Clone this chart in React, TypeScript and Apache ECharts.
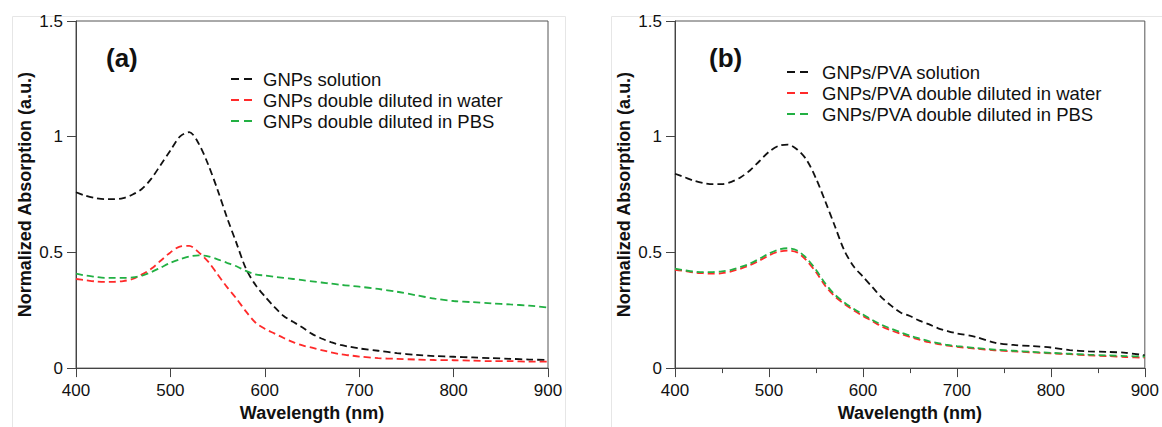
import React, { useEffect, useRef } from "react";
import * as echarts from "echarts";

const wavelengths = [
  400, 410, 420, 430, 440, 450, 460, 470, 480, 490, 500, 510, 520, 530, 540, 550, 560, 570, 580, 590,
  600, 610, 620, 630, 640, 650, 660, 670, 680, 690, 700, 720, 740, 760, 780, 800, 820, 840, 860, 880, 900,
];

const seriesNamesA = ["GNPs solution", "GNPs double diluted in water", "GNPs double diluted in PBS"];
const seriesNamesB = ["GNPs/PVA solution", "GNPs/PVA double diluted in water", "GNPs/PVA double diluted in PBS"];

const solutionA = [
  0.76, 0.745, 0.735, 0.73, 0.73, 0.735, 0.75, 0.775, 0.82, 0.88, 0.94, 1.0, 1.02, 0.97, 0.88, 0.77, 0.65, 0.54, 0.43, 0.36,
  0.31, 0.265, 0.225, 0.2, 0.175, 0.148, 0.128, 0.112, 0.1, 0.092, 0.085, 0.075, 0.065, 0.057, 0.052, 0.049, 0.046, 0.043, 0.04, 0.037, 0.035,
];
const waterA = [
  0.385, 0.38, 0.375, 0.373, 0.373, 0.376, 0.385, 0.405, 0.43, 0.465, 0.5, 0.525, 0.528, 0.5, 0.46, 0.405, 0.35, 0.3, 0.245, 0.197,
  0.17, 0.15, 0.13, 0.112, 0.098, 0.088, 0.078, 0.068, 0.06, 0.055, 0.05, 0.043, 0.04, 0.037, 0.035, 0.034, 0.032, 0.03, 0.03, 0.028, 0.028,
];
const pbsA = [
  0.408, 0.4, 0.395, 0.39, 0.39, 0.39, 0.392, 0.4, 0.415, 0.435, 0.455, 0.47, 0.482, 0.487, 0.483, 0.47, 0.455, 0.44, 0.42, 0.405,
  0.4, 0.395, 0.39, 0.385, 0.38, 0.375, 0.37, 0.365, 0.36, 0.356, 0.352, 0.342, 0.33, 0.315, 0.3, 0.29, 0.285, 0.28, 0.275, 0.27, 0.262,
];

const solutionB = [
  0.84, 0.825, 0.81, 0.8, 0.795, 0.795, 0.805, 0.825, 0.855, 0.895, 0.935, 0.96, 0.966, 0.945, 0.9, 0.82, 0.72, 0.615, 0.51, 0.44,
  0.395, 0.35, 0.305, 0.27, 0.24, 0.225, 0.205, 0.19, 0.172, 0.16, 0.15, 0.135, 0.11, 0.1, 0.095, 0.089, 0.078, 0.072, 0.07, 0.066, 0.055,
];
const waterB = [
  0.425, 0.42, 0.413, 0.41, 0.408, 0.41, 0.418, 0.43, 0.445, 0.465, 0.487, 0.503, 0.508, 0.5, 0.465, 0.415, 0.355, 0.31, 0.278, 0.25,
  0.225, 0.203, 0.18, 0.163, 0.148, 0.135, 0.123, 0.112, 0.104, 0.097, 0.092, 0.084, 0.077, 0.072, 0.068, 0.064, 0.06, 0.055, 0.052, 0.048, 0.045,
];
const pbsB = [
  0.43, 0.423, 0.417, 0.415, 0.415, 0.418, 0.425, 0.437, 0.452, 0.473, 0.495, 0.512, 0.518, 0.508, 0.475, 0.425, 0.365, 0.318, 0.284, 0.256,
  0.232, 0.208, 0.187, 0.17, 0.155, 0.14, 0.128, 0.117, 0.108, 0.1, 0.095, 0.087, 0.08, 0.075, 0.07, 0.066, 0.062, 0.058, 0.055, 0.052, 0.05,
];

const xTicks = { min: 400, max: 900, interval: 100 };
const yTicks = { min: 0, max: 1.5, interval: 0.5 };

const colors = ["#111111", "#ff2a2a", "#22b043"];
const FONT = "'Liberation Sans', Arial, sans-serif";

function pairs(values: number[]) {
  return wavelengths.map((w, i) => [w, values[i]]);
}

function legendGraphics(names: string[], lineX: number, textX: number, firstY: number, pitch: number) {
  const out: any[] = [];
  names.forEach((n, i) => {
    const y = firstY + i * pitch;
    out.push({
      type: "line",
      shape: { x1: lineX, y1: y, x2: lineX + 22, y2: y },
      style: { stroke: colors[i], lineWidth: 1.8, lineDash: [8, 5] },
      silent: true,
    });
    out.push({
      type: "text",
      x: textX,
      y: y,
      style: { text: n, font: `18.5px ${FONT}`, fill: "#111", textVerticalAlign: "middle", verticalAlign: "middle" },
      silent: true,
    });
  });
  return out;
}

export default function App() {
  const ref = useRef<HTMLDivElement>(null);
  useEffect(() => {
    if (!ref.current) return;
    const chart = echarts.init(ref.current, undefined, { renderer: "svg" });

    const xAxis = (gridIndex: number, minor: boolean) => ({
      type: "value",
      gridIndex,
      min: xTicks.min,
      max: xTicks.max,
      interval: xTicks.interval,
      name: "Wavelength (nm)",
      nameLocation: "middle",
      nameGap: 31,
      nameTextStyle: { fontFamily: FONT, fontSize: 18, fontWeight: "bold", color: "#111" },
      axisLine: { show: true, onZero: false, lineStyle: { color: "#444", width: 1 } },
      axisTick: { show: true, length: 9, lineStyle: { color: "#444" } },
      minorTick: { show: minor, splitNumber: 2, length: 5, lineStyle: { color: "#444" } },
      splitLine: { show: false },
      axisLabel: { margin: 14, fontFamily: FONT, fontSize: 17, color: "#111" },
    });
    const yAxis = (gridIndex: number) => ({
      type: "value",
      gridIndex,
      min: yTicks.min,
      max: yTicks.max,
      interval: yTicks.interval,
      name: "Normalized Absorption (a.u.)",
      nameLocation: "middle",
      nameGap: 42,
      nameTextStyle: { fontFamily: FONT, fontSize: 18, fontWeight: "bold", color: "#111" },
      axisLine: { show: true, lineStyle: { color: "#444", width: 1 } },
      axisTick: { show: true, length: 9, lineStyle: { color: "#444" } },
      splitLine: { show: false },
      axisLabel: { margin: 13, fontFamily: FONT, fontSize: 17, color: "#111" },
    });

    const mkSeries = (names: string[], data: number[][], idx: number) =>
      names.map((n, i) => ({
        name: n,
        type: "line",
        xAxisIndex: idx,
        yAxisIndex: idx,
        data: pairs(data[i]),
        symbol: "none",
        smooth: 0.3,
        lineStyle: { color: colors[i], width: 1.8, type: [7, 4] },
        itemStyle: { color: colors[i] },
      }));

    chart.setOption({
      animation: false,
      backgroundColor: "#ffffff",
      grid: [
        { left: 76, right: 614, top: 21, bottom: 52, show: true, borderColor: "#555", borderWidth: 1, backgroundColor: "transparent" },
        { left: 675, right: 15, top: 21, bottom: 52, show: true, borderColor: "#555", borderWidth: 1, backgroundColor: "transparent" },
      ],
      xAxis: [xAxis(0, false), xAxis(1, true)],
      yAxis: [yAxis(0), yAxis(1)],
      graphic: [
        { type: "rect", left: 10, top: 14, shape: { width: 553, height: 430 }, style: { fill: "none", stroke: "#e6e6e6", lineWidth: 1 }, silent: true, z: -10 },
        { type: "rect", left: 609, top: 14, shape: { width: 560, height: 430 }, style: { fill: "none", stroke: "#e6e6e6", lineWidth: 1 }, silent: true, z: -10 },
        { type: "text", left: 106, top: 45, style: { text: "(a)", font: `bold 26px ${FONT}`, fill: "#111" } },
        { type: "text", left: 709, top: 45, style: { text: "(b)", font: `bold 26px ${FONT}`, fill: "#111" } },
        ...legendGraphics(seriesNamesA, 231, 263, 79, 21),
        ...legendGraphics(seriesNamesB, 787, 822, 72, 21),
      ],
      series: [
        ...mkSeries(seriesNamesA, [solutionA, waterA, pbsA], 0),
        ...mkSeries(seriesNamesB, [solutionB, waterB, pbsB], 1),
      ],
    });
    return () => chart.dispose();
  }, []);
  return <div ref={ref} style={{ position: "absolute", left: 0, top: 0, width: 1162, height: 427 }} />;
}
